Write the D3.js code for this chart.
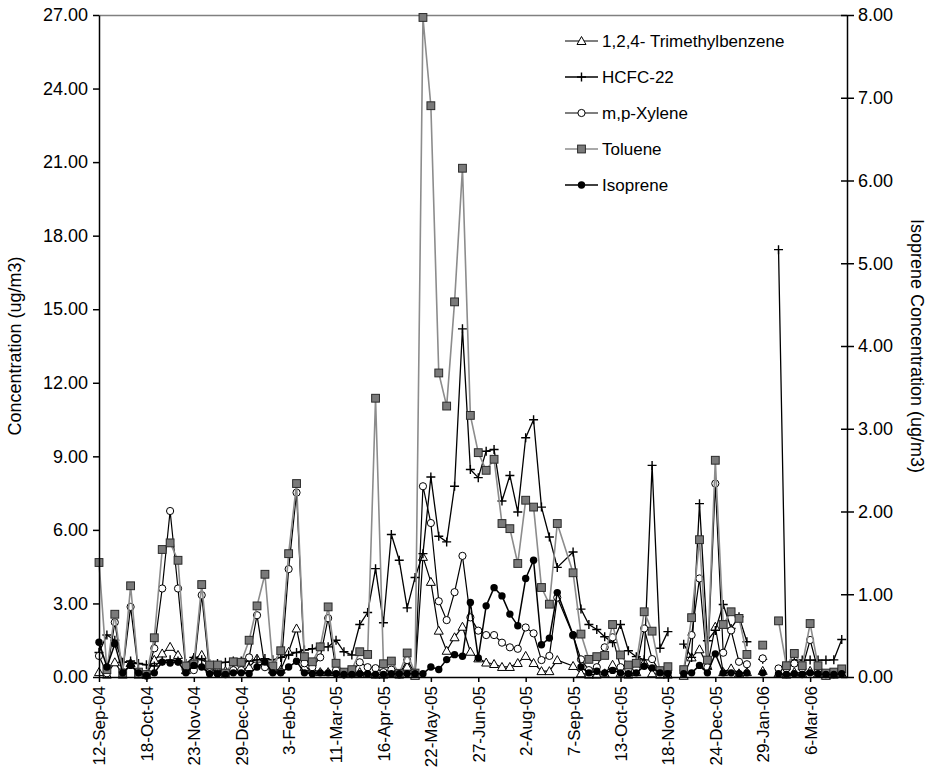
<html>
<head>
    <style>
        body { margin: 0; background: #fff; }
        svg { font-family: "Liberation Sans", Arial, sans-serif; }
    </style>
</head>
<body>
<svg width='933' height='782'></svg>
<script src='https://cdnjs.cloudflare.com/ajax/libs/d3/7.8.5/d3.min.js'></script>
<script>
    // sample dates (1-in-6 day schedule, one skipped day and a few blank cells)
    const dates = [
        '2004-09-12', '2004-09-18', '2004-09-24', '2004-09-30', '2004-10-06', '2004-10-12', '2004-10-18', '2004-10-24',
        '2004-10-30', '2004-11-05', '2004-11-11', '2004-11-17', '2004-11-23', '2004-11-29', '2004-12-05', '2004-12-11',
        '2004-12-17', '2004-12-23', '2004-12-29', '2005-01-04', '2005-01-10', '2005-01-16', '2005-01-22', '2005-01-28',
        '2005-02-03', '2005-02-09', '2005-02-15', '2005-02-21', '2005-02-27', '2005-03-05', '2005-03-11', '2005-03-17',
        '2005-03-23', '2005-03-29', '2005-04-04', '2005-04-10', '2005-04-16', '2005-04-22', '2005-04-28', '2005-05-04',
        '2005-05-10', '2005-05-16', '2005-05-22', '2005-05-28', '2005-06-03', '2005-06-09', '2005-06-15', '2005-06-21',
        '2005-06-27', '2005-07-03', '2005-07-09', '2005-07-15', '2005-07-21', '2005-07-27', '2005-08-02', '2005-08-08',
        '2005-08-14', '2005-08-20', '2005-08-26', '2005-09-07', '2005-09-13', '2005-09-19', '2005-09-25', '2005-10-01',
        '2005-10-07', '2005-10-13', '2005-10-19', '2005-10-25', '2005-10-31', '2005-11-06', '2005-11-12', '2005-11-18',
        '2005-11-24', '2005-11-30', '2005-12-06', '2005-12-12', '2005-12-18', '2005-12-24', '2005-12-30', '2006-01-05',
        '2006-01-11', '2006-01-17', '2006-01-23', '2006-01-29', '2006-02-04', '2006-02-10', '2006-02-16', '2006-02-22',
        '2006-02-28', '2006-03-06', '2006-03-12', '2006-03-18', '2006-03-24', '2006-03-30'
    ];

    const trimethylbenzene = [
        0.2, 0.1, 0.6, 0.1, 0.57, 0.1, 0.1, 0.7, 0.96, 1.23, 0.9, 0.28, 0.75, 0.9, 0.4, 0.3,
        0.25, 0.3, 0.3, 0.4, 0.75, 0.6, 0.3, 0.3, 1.03, 1.98, 0.4, 0.3, 0.2, 0.2, 0.2, 0.15,
        0.15, 0.2, 0.15, 0.1, 0.1, 0.15, 0.1, 0.42, 0.05, 4.9, 3.88, 1.89, 1.07, 1.62, 2.05, 1.03,
        0.76, 0.59, 0.53, 0.41, 0.41, 0.57, 0.86, 0.57, 0.24, 0.24, 0.69, 0.45, 0.15, 0.1, 0.1, 0.15,
        0.5, 0.15, 0.1, 0.2, 0.6, 0.15, 0.1, 0.1, null, 0.05, 0.8, 1.13, 0.45, 2.05, 0.2, 0.35,
        0.15, 0.2, null, 0.25, null, 0.15, 0.1, 0.2, 0.15, 0.25, 0.15, 0.05, 0.1, 0.15
    ];

    const hcfc22 = [
        1.0, 1.71, 1.5, 0.6, 0.65, 0.55, 0.5, 0.45, 0.65, 0.7, 0.65, 0.55, 0.8, 0.7, 0.55, 0.55,
        0.6, 0.65, 0.65, 0.65, 0.7, 0.75, 0.7, 0.8, 0.9, 1.0, 1.1, 1.15, 1.23, 1.23, 1.5, 1.03,
        0.9, 2.14, 2.63, 4.42, 2.21, 5.81, 4.76, 2.82, 4.06, 5.03, 8.16, 5.74, 5.51, 7.78, 14.2, 8.46,
        8.13, 9.21, 9.28, 7.18, 8.22, 6.73, 9.76, 10.49, 6.93, 5.71, 4.47, 5.1, 2.77, 2.14, 1.94, 1.64,
        1.4, 2.14, 1.07, 0.83, 0.7, 8.63, 1.17, 1.85, null, 1.34, 0.8, 7.07, 1.48, 1.9, 2.96, 1.98,
        2.46, 1.44, null, 0.72, null, 17.43, 0.5, 0.7, 0.69, 0.69, 0.69, 0.69, 0.7, 1.53
    ];

    const xylene = [
        0.86, 0.15, 2.23, 0.2, 2.86, 0.2, 0.05, 1.17, 3.61, 6.77, 3.61, 0.28, 0.28, 3.34, 0.2, 0.15,
        0.15, 0.28, 0.28, 0.8, 2.52, 0.4, 0.28, 0.2, 4.4, 7.52, 0.56, 0.4, 0.8, 2.4, 0.28, 0.1,
        0.2, 0.6, 0.4, 0.36, 0.2, 0.3, 0.1, 0.69, 0.15, 7.78, 6.28, 3.09, 2.32, 3.46, 4.94, 2.43,
        1.89, 1.71, 1.71, 1.4, 1.21, 1.15, 2.02, 1.78, 0.69, 0.86, 3.24, 1.7, 0.72, 0.28, 0.4, 1.21,
        1.62, 0.4, 0.3, 0.35, 1.98, 0.73, 0.2, 0.2, null, 0.28, 1.71, 4.02, 0.4, 7.89, 0.99, 1.9,
        0.62, 0.52, null, 0.76, null, 0.35, 0.35, 0.55, 0.35, 1.51, 0.28, 0.12, 0.12, 0.28
    ];

    const toluene = [
        4.67, 0.3, 2.56, 0.16, 3.72, 0.2, 0.1, 1.6, 5.2, 5.47, 4.76, 0.45, 0.53, 3.77, 0.49, 0.49,
        0.16, 0.62, 0.6, 1.5, 2.9, 4.19, 0.45, 1.07, 5.03, 7.89, 0.83, 0.62, 1.23, 2.86, 0.56, 0.2,
        0.3, 1.03, 0.92, 11.37, 0.54, 0.65, 0.15, 0.98, 0.16, 26.9, 23.3, 12.4, 11.05, 15.3, 20.75, 10.67,
        9.15, 8.43, 8.88, 6.26, 6.05, 4.63, 7.21, 6.93, 3.65, 2.97, 6.26, 4.25, 1.75, 0.72, 0.83, 0.88,
        2.14, 0.9, 0.49, 0.56, 2.66, 1.87, 0.26, 0.42, null, 0.3, 2.42, 5.6, 0.69, 8.84, 2.14, 2.66,
        2.39, 0.92, null, 1.3, null, 2.29, 0.46, 0.96, 0.46, 2.18, 0.46, 0.16, 0.2, 0.33
    ];

    // isoprene is read on the right axis
    const isoprene = [
        0.42, 0.12, 0.4, 0.05, 0.14, 0.05, 0.02, 0.05, 0.18, 0.17, 0.18, 0.05, 0.14, 0.12, 0.04, 0.04,
        0.03, 0.05, 0.05, 0.04, 0.12, 0.18, 0.05, 0.05, 0.12, 0.19, 0.05, 0.04, 0.05, 0.05, 0.04, 0.03,
        0.03, 0.04, 0.04, 0.03, 0.03, 0.04, 0.04, 0.04, 0.04, 0.04, 0.12, 0.09, 0.21, 0.27, 0.25, 0.9,
        0.23, 0.86, 1.08, 0.98, 0.76, 0.62, 1.19, 1.41, 0.39, 0.47, 1.02, 0.51, 0.12, 0.05, 0.07, 0.05,
        0.08, 0.05, 0.04, 0.05, 0.13, 0.11, 0.05, 0.04, null, 0.04, 0.05, 0.14, 0.05, 0.28, 0.05, 0.05,
        0.04, 0.05, null, 0.05, null, 0.04, 0.03, 0.04, 0.03, 0.05, 0.04, 0.03, 0.03, 0.04
    ];

    const leftTicks = [0, 3, 6, 9, 12, 15, 18, 21, 24, 27];
    const rightTicks = [0, 1, 2, 3, 4, 5, 6, 7, 8];
    const dateTicks = [
        '2004-09-12', '2004-10-18', '2004-11-23', '2004-12-29', '2005-02-03', '2005-03-11', '2005-04-16', '2005-05-22',
        '2005-06-27', '2005-08-02', '2005-09-07', '2005-10-13', '2005-11-18', '2005-12-24', '2006-01-29', '2006-03-06'
    ];

    const svg = d3.select('svg');
    const plotLeft = 99, plotRight = 847, plotTop = 15, plotBottom = 677;
    const fontSize = 17;
    const parse = d3.timeParse('%Y-%m-%d');

    const x = d3.scaleTime()
        .domain([parse('2004-09-12'), parse('2006-04-03')])
        .range([plotLeft, plotRight]);
    const y = d3.scaleLinear().domain([0, 27]).range([plotBottom, plotTop]);
    const y2 = d3.scaleLinear().domain([0, 8]).range([plotBottom, plotTop]);

    // top border of plot area
    svg.append('line')
        .attr('x1', plotLeft).attr('x2', plotRight)
        .attr('y1', plotTop + 0.5).attr('y2', plotTop + 0.5)
        .attr('stroke', '#808080').attr('stroke-width', 1.5);

    const series = [
        {name: '1,2,4- Trimethylbenzene', values: trimethylbenzene, scale: y, line: '#000', width: 1.2, marker: 'triangle'},
        {name: 'HCFC-22', values: hcfc22, scale: y, line: '#000', width: 1.3, marker: 'plus'},
        {name: 'm,p-Xylene', values: xylene, scale: y, line: '#000', width: 1.2, marker: 'circle'},
        {name: 'Toluene', values: toluene, scale: y, line: '#8c8c8c', width: 1.6, marker: 'square'},
        {name: 'Isoprene', values: isoprene, scale: y2, line: '#000', width: 1.5, marker: 'dot'}
    ];

    function drawMarker (g, type, cx, cy) {
        if (type === 'triangle') {
            g.append('path')
                .attr('d', `M${cx},${cy - 4.5}L${cx + 4.5},${cy + 3.5}L${cx - 4.5},${cy + 3.5}Z`)
                .attr('fill', '#fff').attr('stroke', '#000').attr('stroke-width', 1);
        } else if (type === 'plus') {
            g.append('path')
                .attr('d', `M${cx - 4.5},${cy}H${cx + 4.5}M${cx},${cy - 4.5}V${cy + 4.5}`)
                .attr('stroke', '#000').attr('stroke-width', 1.4);
        } else if (type === 'circle') {
            g.append('circle')
                .attr('cx', cx).attr('cy', cy).attr('r', 3.6)
                .attr('fill', '#fff').attr('stroke', '#000').attr('stroke-width', 1);
        } else if (type === 'square') {
            g.append('rect')
                .attr('x', cx - 3.9).attr('y', cy - 3.9)
                .attr('width', 7.8).attr('height', 7.8)
                .attr('fill', '#7a7a7a').attr('stroke', '#2a2a2a').attr('stroke-width', 1);
        } else {
            g.append('circle')
                .attr('cx', cx).attr('cy', cy).attr('r', 3.7)
                .attr('fill', '#000');
        }
    }

    series.forEach(s => {
        const pts = dates.map((d, i) => ({date: parse(d), v: s.values[i]}));
        const line = d3.line()
            .defined(d => d.v !== null)
            .x(d => x(d.date))
            .y(d => s.scale(d.v));

        const g = svg.append('g');
        g.append('path')
            .datum(pts)
            .attr('d', line)
            .attr('fill', 'none')
            .attr('stroke', s.line)
            .attr('stroke-width', s.width)
            .attr('stroke-linejoin', 'round');

        pts.filter(d => d.v !== null).forEach(d => {
            drawMarker(g, s.marker, x(d.date), s.scale(d.v));
        });
    });

    // axes
    const leftAxis = svg.append('g')
        .attr('transform', `translate(${plotLeft},0)`)
        .call(d3.axisLeft(y).tickValues(leftTicks).tickFormat(d3.format('.2f')).tickSize(6).tickSizeOuter(0).tickPadding(5));

    const rightAxis = svg.append('g')
        .attr('transform', `translate(${plotRight},0)`)
        .call(d3.axisRight(y2).tickValues(rightTicks).tickFormat(d3.format('.2f')).tickSize(7).tickSizeOuter(0).tickPadding(4));
    rightAxis.selectAll('.tick line').attr('x1', -6);

    const bottomAxis = svg.append('g')
        .attr('transform', `translate(0,${plotBottom})`)
        .call(d3.axisBottom(x).tickValues(dateTicks.map(parse)).tickFormat(d3.timeFormat('%-d-%b-%y')).tickSize(5).tickSizeOuter(0));
    bottomAxis.selectAll('text')
        .attr('transform', 'rotate(-90)')
        .attr('text-anchor', 'end')
        .attr('x', -9)
        .attr('y', 0)
        .attr('dy', '0.35em');

    [leftAxis, rightAxis, bottomAxis].forEach(a => {
        a.attr('font-size', fontSize).attr('font-family', '"Liberation Sans", Arial, sans-serif');
        a.selectAll('path, line').attr('stroke', '#000').attr('stroke-width', 1.5);
        a.selectAll('text').attr('fill', '#000');
    });
    leftAxis.attr('font-size', 18);
    rightAxis.attr('font-size', 18);

    // axis titles
    svg.append('text')
        .attr('transform', `translate(21,${(plotTop + plotBottom) / 2}) rotate(-90)`)
        .attr('text-anchor', 'middle')
        .attr('font-size', 18)
        .text('Concentration (ug/m3)');

    svg.append('text')
        .attr('transform', `translate(911,${(plotTop + plotBottom) / 2}) rotate(90)`)
        .attr('text-anchor', 'middle')
        .attr('font-size', 18)
        .text('Isoprene Concentration (ug/m3)');

    // legend
    const legend = svg.append('g').attr('transform', 'translate(565,41)');
    series.forEach((s, i) => {
        const row = legend.append('g').attr('transform', `translate(0,${i * 36})`);
        row.append('line')
            .attr('x1', 0).attr('x2', 33)
            .attr('stroke', s.line).attr('stroke-width', s.width);
        drawMarker(row, s.marker, 16.5, 0);
        row.append('text')
            .attr('x', 37).attr('dy', '0.35em')
            .attr('font-size', fontSize)
            .text(s.name);
    });
</script>
</body>
</html>
